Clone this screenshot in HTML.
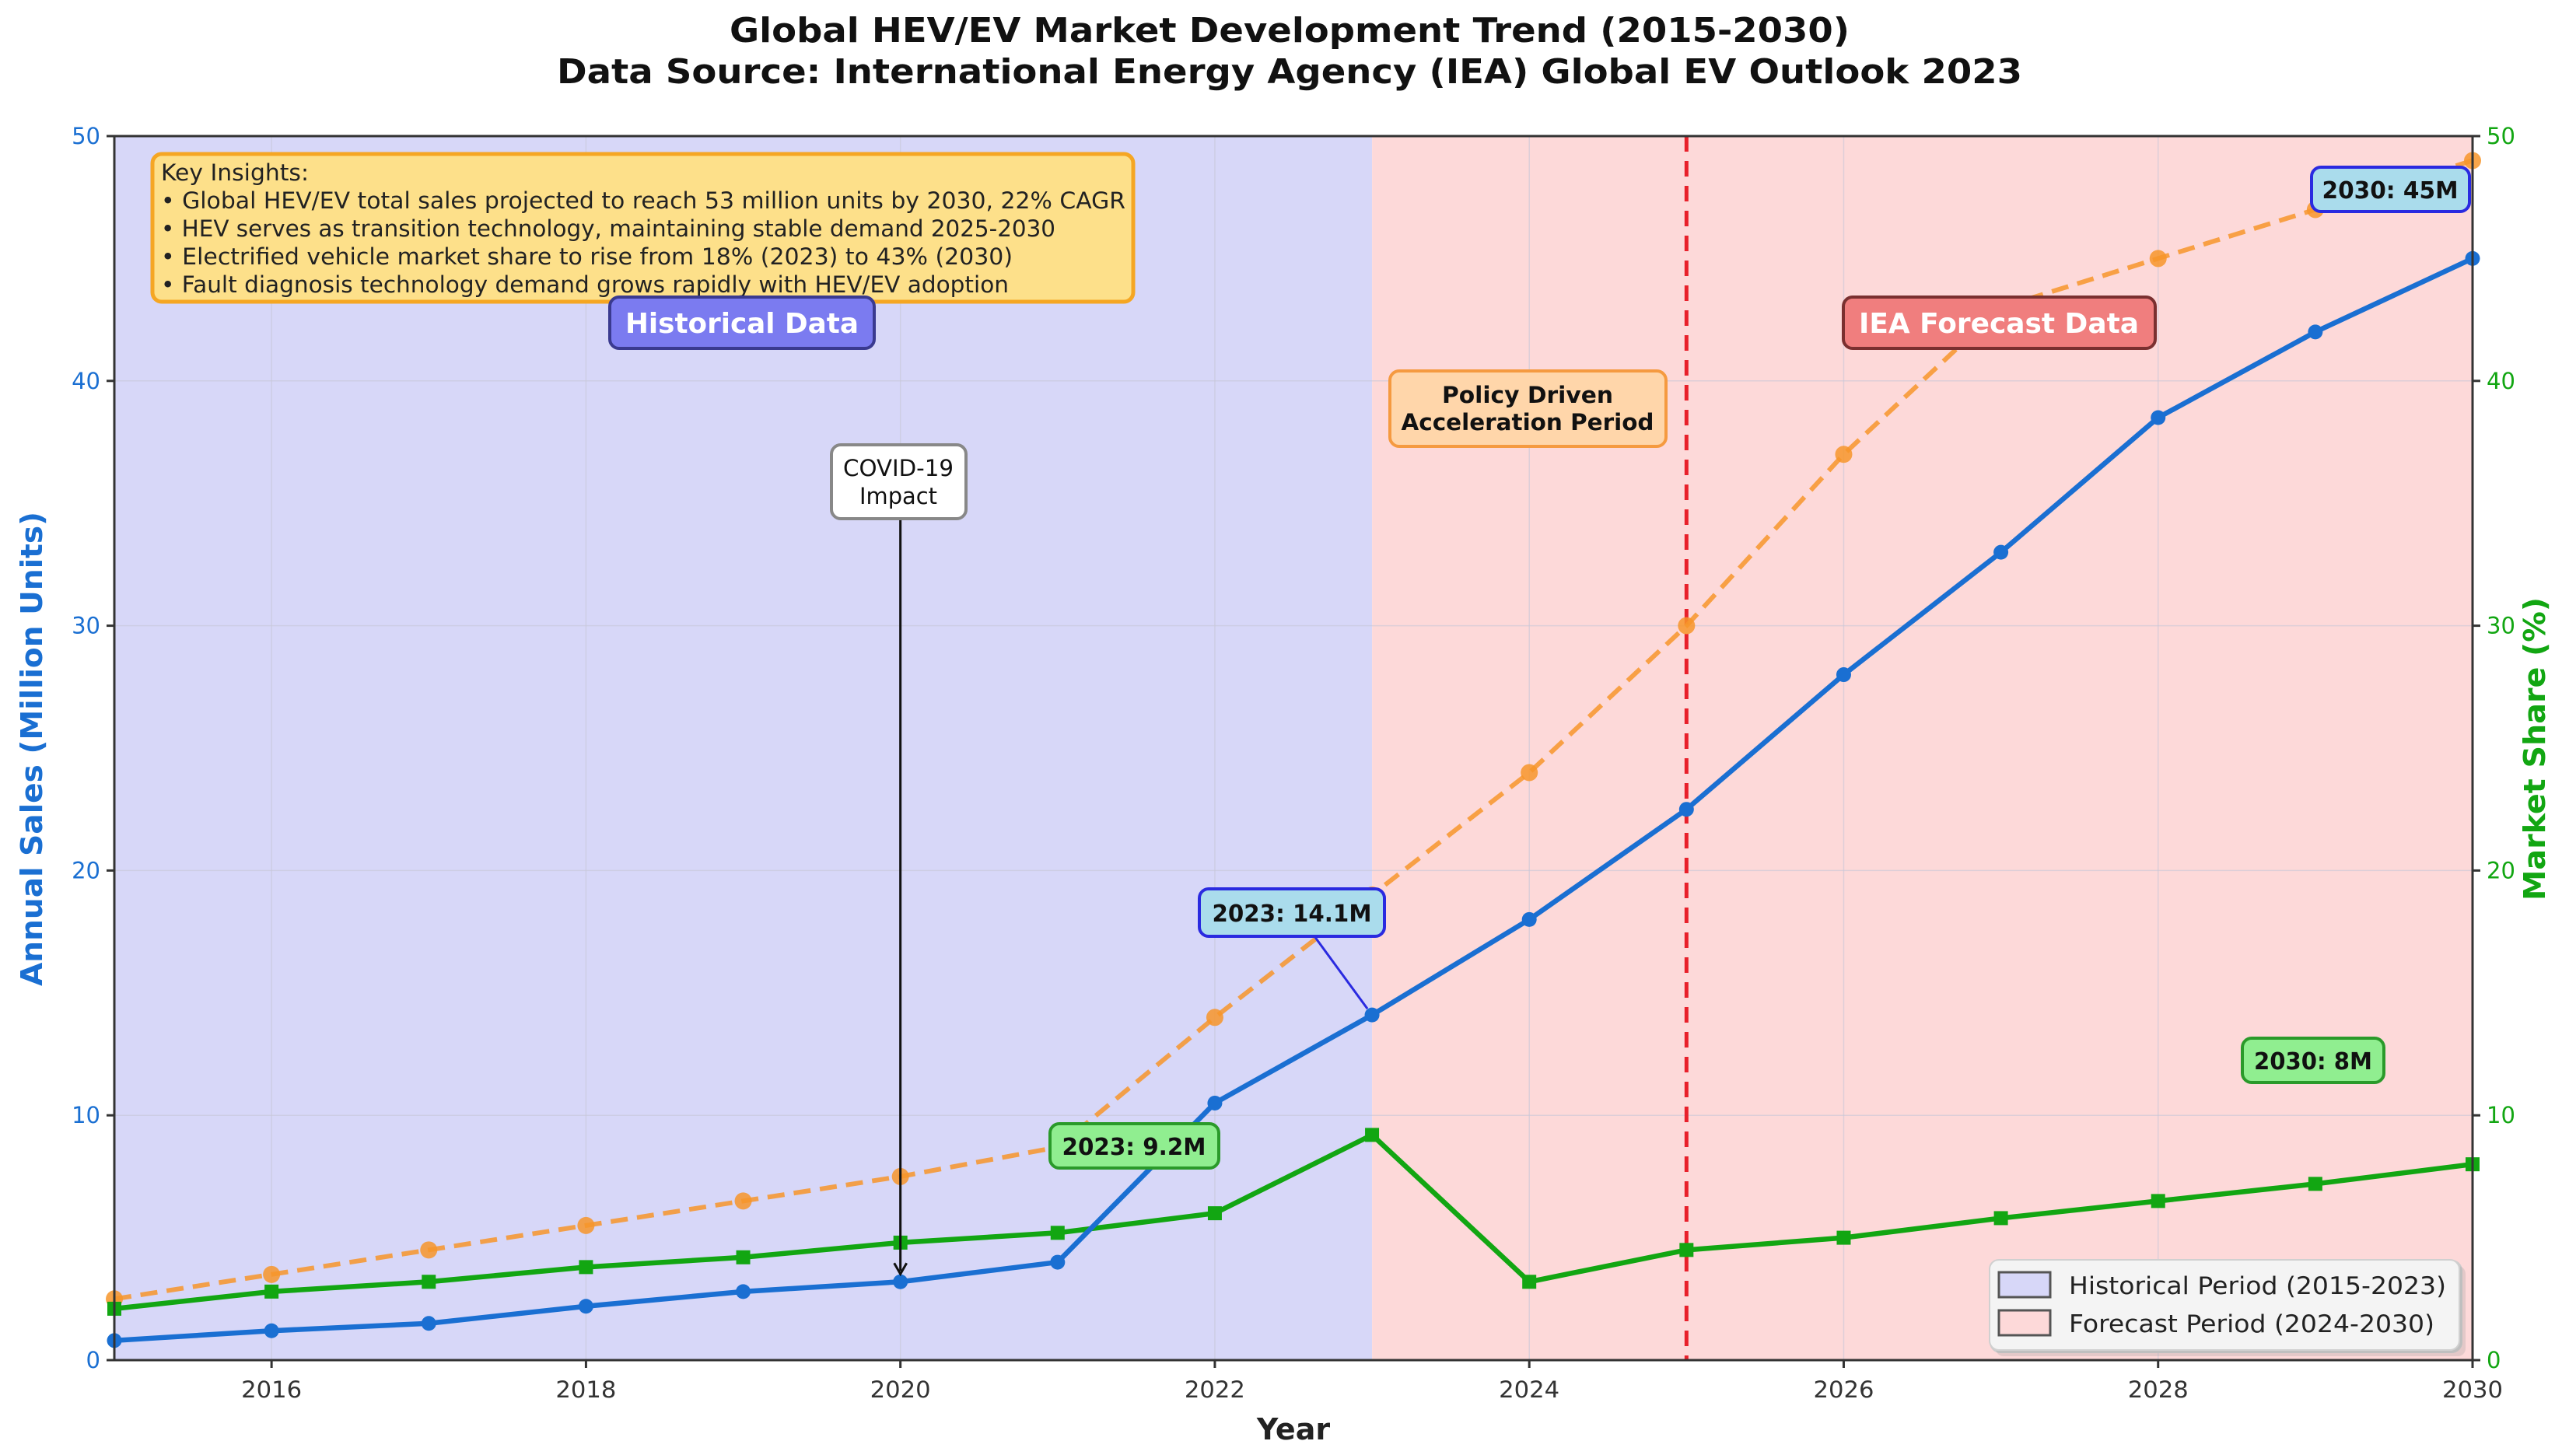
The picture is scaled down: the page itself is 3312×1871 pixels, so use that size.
<!DOCTYPE html>
<html><head><meta charset="utf-8"><style>
html,body{margin:0;padding:0;background:#fff}
svg{display:block;font-family:"DejaVu Sans","Liberation Sans",sans-serif}
</style></head><body>
<svg id="chart" width="3312" height="1871" viewBox="0 0 3312 1871" xmlns="http://www.w3.org/2000/svg">
<g id="bg"></g><g id="grid"></g><g id="series"></g><g id="annot"></g><g id="axes"></g>
</svg>
<script>
const years = [2015,2016,2017,2018,2019,2020,2021,2022,2023,2024,2025,2026,2027,2028,2029,2030];
const totalSales = [0.8,1.2,1.5,2.2,2.8,3.2,4.0,10.5,14.1,18,22.5,28,33,38.5,42,45];
const marketShare = [2.5,3.5,4.5,5.5,6.5,7.5,8.7,14,19,24,30,37,43,45,47,49];
const hevSales = [2.1,2.8,3.2,3.8,4.2,4.8,5.2,6.0,9.2,3.2,4.5,5.0,5.8,6.5,7.2,8.0];
const xTicks = [2016,2018,2020,2022,2024,2026,2028,2030];
const yTicks = [0,10,20,30,40,50];

const NS="http://www.w3.org/2000/svg";
const L=147,R=3179,T=175,B=1749;
const X0=2015,X1=2030,Ymax=50;
const sx=v=>L+(v-X0)/(X1-X0)*(R-L);
const sy=v=>B-v/Ymax*(B-T);
function mk(tag,attrs,parent,text){const e=document.createElementNS(NS,tag);for(const k in attrs)e.setAttribute(k,attrs[k]);if(text!==undefined)e.textContent=text;document.getElementById(parent).appendChild(e);return e;}

// backgrounds
let e;
e=mk('rect',{x:sx(2015),y:T,width:sx(2023)-sx(2015),height:B-T,fill:'#d7d7f8'},'bg');


e=mk('rect',{x:sx(2023),y:T,width:sx(2030)-sx(2023),height:B-T,fill:'#fdd9d9'},'bg');


// grid
for(const t of xTicks){e=mk('line',{x1:sx(t),x2:sx(t),y1:T,y2:B,stroke:'#c8c8d8','stroke-width':1.5,opacity:0.6},'grid');}
for(const t of yTicks){e=mk('line',{x1:L,x2:R,y1:sy(t),y2:sy(t),stroke:'#c8c8d8','stroke-width':1.5,opacity:0.6},'grid');}
// red dashed line at 2025
e=mk('line',{x1:sx(2025),x2:sx(2025),y1:T,y2:B,stroke:'#e8202a','stroke-width':5,'stroke-dasharray':'20 12'},'grid');



function series(vals,color,name,dash,marker){
  const pts=years.map((y,i)=>sx(y)+','+sy(vals[i])).join(' ');
  const p=mk('polyline',{points:pts,fill:'none',stroke:color,'stroke-width':dash?6:6.5,'stroke-linejoin':'round','stroke-dasharray':dash?'22 12':'none',opacity:dash?0.85:1},'series');
  
  
  years.forEach((y,i)=>{
    let m;
    if(marker==='sq'){m=mk('rect',{x:sx(y)-9,y:sy(vals[i])-9,width:18,height:18,fill:color},'series');}
    else{m=mk('circle',{cx:sx(y),cy:sy(vals[i]),r:dash?11:9.5,fill:color,opacity:dash?0.85:1},'series');}
    
    
  });
}
series(marketShare,'#f7952a','market-share',true,'c');
series(hevSales,'#12a612','hev-sales',false,'sq');
series(totalSales,'#1a6fd2','total-sales',false,'c');

// annotations
function box(x,y,w,h,fill,stroke,name,sw){const r=mk('rect',{x:x,y:y,width:w,height:h,rx:12,fill:fill,stroke:stroke,'stroke-width':sw||4},'annot');return r;}
function txt(x,y,s,opts,name){const t=mk('text',Object.assign({x:x,y:y},opts),'annot',s);return t;}

box(196,198,1261,190,'#fde08a','#f5a623','key-insights-box',5);
const ins=['Key Insights:','• Global HEV/EV total sales projected to reach 53 million units by 2030, 22% CAGR','• HEV serves as transition technology, maintaining stable demand 2025-2030','• Electrified vehicle market share to rise from 18% (2023) to 43% (2030)','• Fault diagnosis technology demand grows rapidly with HEV/EV adoption'];
const insW=[190,1240,1150,1095,1090];
ins.forEach((s,i)=>{txt(207,232+i*36,s,{'font-size':29,fill:'#222',textLength:insW[i],lengthAdjust:'spacingAndGlyphs'},'key-insight-line-'+i);});

box(784,382,340,66,'#7b7bf0','#3a3a90','historical-data-label-box');
txt(954,428,'Historical Data',{'font-size':36,'font-weight':'bold',fill:'#fff','text-anchor':'middle',textLength:300,lengthAdjust:'spacingAndGlyphs'},'historical-data-label');
box(2370,382,401,66,'#f07e7e','#7a3030');
txt(2570,428,'IEA Forecast Data',{'font-size':36,'font-weight':'bold',fill:'#fff','text-anchor':'middle',textLength:360,lengthAdjust:'spacingAndGlyphs'},'iea-forecast-label');
box(1787,477,355,97,'#ffd6aa','#f59a40');
txt(1964,518,'Policy Driven',{'font-size':29,'font-weight':'bold',fill:'#111','text-anchor':'middle',textLength:220,lengthAdjust:'spacingAndGlyphs'},'policy-label-1');
txt(1964,553,'Acceleration Period',{'font-size':29,'font-weight':'bold',fill:'#111','text-anchor':'middle',textLength:325,lengthAdjust:'spacingAndGlyphs'},'policy-label-2');

// covid
e=mk('line',{x1:sx(2020),x2:sx(2020),y1:668,y2:sy(3.2)-14,stroke:'#111','stroke-width':3},'annot');


mk('path',{d:`M${sx(2020)-8},${sy(3.2)-24} L${sx(2020)},${sy(3.2)-10} L${sx(2020)+8},${sy(3.2)-24}`,fill:'none',stroke:'#111','stroke-width':3},'annot');
box(1069,572,173,95,'#fff','#888');
txt(1155,612,'COVID-19',{'font-size':29,fill:'#111','text-anchor':'middle',textLength:142,lengthAdjust:'spacingAndGlyphs'},'covid-label-1');
txt(1155,648,'Impact',{'font-size':29,fill:'#111','text-anchor':'middle',textLength:100,lengthAdjust:'spacingAndGlyphs'},'covid-label-2');

// 2023 14.1M
e=mk('line',{x1:1690,y1:1204,x2:sx(2023)-6,y2:sy(14.1)-8,stroke:'#2a2ae0','stroke-width':3},'annot');


box(1542,1143,238,61,'#aadcec','#2a2ae0');
txt(1661,1185,'2023: 14.1M',{'font-size':30,'font-weight':'bold',fill:'#111','text-anchor':'middle',textLength:205,lengthAdjust:'spacingAndGlyphs'},'callout-2023-total');
box(1350,1445,217,57,'#90ee90','#2a9a2a');
txt(1458,1485,'2023: 9.2M',{'font-size':30,'font-weight':'bold',fill:'#111','text-anchor':'middle',textLength:185,lengthAdjust:'spacingAndGlyphs'},'callout-2023-hev');
box(2972,215,203,57,'#aadcec','#2a2ae0');
txt(3073,255,'2030: 45M',{'font-size':30,'font-weight':'bold',fill:'#111','text-anchor':'middle',textLength:175,lengthAdjust:'spacingAndGlyphs'},'callout-2030-total');
box(2883,1335,182,57,'#90ee90','#2a9a2a');
txt(2974,1375,'2030: 8M',{'font-size':30,'font-weight':'bold',fill:'#111','text-anchor':'middle',textLength:152,lengthAdjust:'spacingAndGlyphs'},'callout-2030-hev');

// legend
box(2560,1622,604,116,'#f2f2f2','#cccccc',)
mk('rect',{x:2566,y:1628,width:604,height:116,rx:10,fill:'#999',opacity:0.25},'annot');
box(2558,1620,604,116,'#f4f4f4','#d0d0d0','legend-box',2);
e=mk('rect',{x:2570,y:1636,width:66,height:32,fill:'#d7d7f8',stroke:'#555','stroke-width':3},'annot');


txt(2660,1664,'Historical Period (2015-2023)',{'font-size':31,fill:'#222',textLength:485,lengthAdjust:'spacingAndGlyphs'},'legend-historical');
e=mk('rect',{x:2570,y:1685,width:66,height:32,fill:'#fdd9d9',stroke:'#555','stroke-width':3},'annot');


txt(2660,1713,'Forecast Period (2024-2030)',{'font-size':31,fill:'#222',textLength:470,lengthAdjust:'spacingAndGlyphs'},'legend-forecast');

// axes frame
e=mk('rect',{x:L,y:T,width:R-L,height:B-T,fill:'none',stroke:'#333','stroke-width':3},'axes');


for(const t of xTicks){
  mk('line',{x1:sx(t),x2:sx(t),y1:B,y2:B+10,stroke:'#333','stroke-width':3},'axes');
  e=mk('text',{x:sx(t),y:1797,'font-size':29,fill:'#333','text-anchor':'middle',textLength:78,lengthAdjust:'spacingAndGlyphs'},'axes',String(t));
  
  
}
for(const t of yTicks){
  mk('line',{x1:L-10,x2:L,y1:sy(t),y2:sy(t),stroke:'#333','stroke-width':3},'axes');
  e=mk('text',{x:L-18,y:sy(t)+10,'font-size':29,fill:'#1a6fd2','text-anchor':'end'},'axes',String(t));
  
  
  mk('line',{x1:R,x2:R+10,y1:sy(t),y2:sy(t),stroke:'#333','stroke-width':3},'axes');
  e=mk('text',{x:R+18,y:sy(t)+10,'font-size':29,fill:'#12a612','text-anchor':'start'},'axes',String(t));
  
  
}
e=mk('text',{x:1663,y:1851,'font-size':38,'font-weight':'bold',fill:'#222','text-anchor':'middle'},'axes','Year');


e=mk('text',{x:0,y:0,'font-size':38,'font-weight':'bold',fill:'#1a6fd2','text-anchor':'middle',transform:'translate(54,963) rotate(-90)',textLength:610,lengthAdjust:'spacingAndGlyphs'},'axes','Annual Sales (Million Units)');


e=mk('text',{x:0,y:0,'font-size':38,'font-weight':'bold',fill:'#12a612','text-anchor':'middle',transform:'translate(3272,963) rotate(-90)',textLength:390,lengthAdjust:'spacingAndGlyphs'},'axes','Market Share (%)');


e=mk('text',{x:1658,y:54,'font-size':44,'font-weight':'bold',fill:'#111','text-anchor':'middle',textLength:1440,lengthAdjust:'spacingAndGlyphs'},'axes','Global HEV/EV Market Development Trend (2015-2030)');


e=mk('text',{x:1658,y:107,'font-size':44,'font-weight':'bold',fill:'#111','text-anchor':'middle',textLength:1884,lengthAdjust:'spacingAndGlyphs'},'axes','Data Source: International Energy Agency (IEA) Global EV Outlook 2023');


</script>
</body></html>
